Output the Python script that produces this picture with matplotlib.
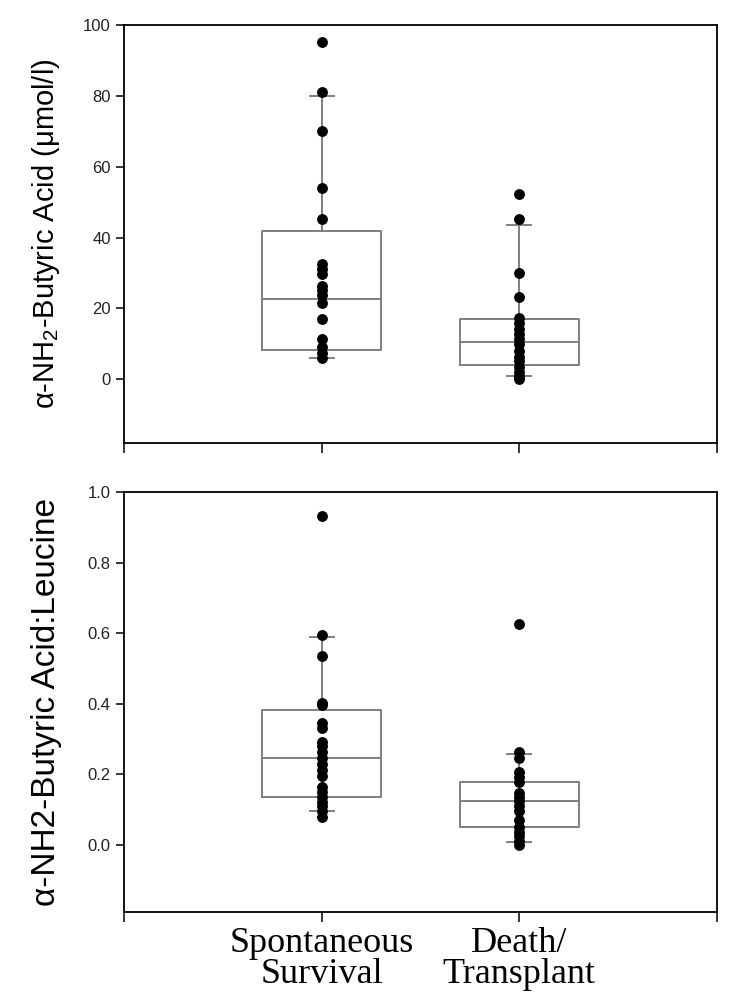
import numpy as np
import matplotlib
matplotlib.use("Agg")
import matplotlib.pyplot as plt
from matplotlib.ticker import FormatStrFormatter

plt.rcParams["font.family"] = ["Liberation Sans", "DejaVu Sans"]
plt.rcParams["mathtext.fontset"] = "custom"
plt.rcParams["mathtext.rm"] = "Liberation Sans"
plt.rcParams["mathtext.it"] = "Liberation Sans:italic"

# -*- data
groups = ["Spontaneous\nSurvival", "Death/\nTransplant"]

# alpha-NH2-butyric acid (umol/l)
abu_surv = [95.2, 81.0, 70.0, 54.0, 45.2, 32.6, 31.2, 29.6, 26.4, 25.2,
            23.8, 21.5, 17.1, 11.4, 9.0, 7.3, 6.0]
abu_dead = [52.2, 45.2, 30.0, 23.2, 17.2, 15.8, 14.2, 12.8, 11.3, 9.8,
            8.0, 6.4, 5.0, 3.5, 2.0, 1.0, 0.0]
# box stats: (whisker low, q1, median, q3, whisker high)
abu_box_surv = [6.0, 8.2, 22.5, 41.8, 80.0]
abu_box_dead = [1.0, 3.9, 10.4, 16.9, 43.5]

# alpha-NH2-butyric acid : leucine ratio
ratio_surv = [0.932, 0.595, 0.535, 0.402, 0.396, 0.345, 0.330, 0.293, 0.279,
              0.262, 0.246, 0.229, 0.212, 0.195, 0.163, 0.150, 0.137, 0.123,
              0.110, 0.095, 0.080]
ratio_dead = [0.625, 0.264, 0.246, 0.208, 0.193, 0.178, 0.148, 0.136, 0.124,
              0.109, 0.097, 0.071, 0.052, 0.038, 0.024, 0.010, 0.0]
ratio_box_surv = [0.097, 0.137, 0.246, 0.381, 0.588]
ratio_box_dead = [0.009, 0.050, 0.125, 0.179, 0.258]


def box_stats(b):
    return dict(whislo=b[0], q1=b[1], med=b[2], q3=b[3], whishi=b[4])


def draw_panel(ax, boxes, points, ylim, yticks, ylabel, lsize):
    gray = "#7f7f7f"
    ax.bxp([box_stats(b) for b in boxes], positions=[1, 2], widths=0.6,
           capwidths=0.12, showfliers=False,
           boxprops=dict(color=gray, lw=1.4),
           medianprops=dict(color=gray, lw=1.4),
           whiskerprops=dict(color=gray, lw=1.4),
           capprops=dict(color=gray, lw=1.4))
    for i, p in enumerate(points):
        ax.plot(np.full(len(p), i + 1), p, "o", color="black", ms=6.8,
                zorder=3)
    ax.set_xlim(0, 3)
    ax.set_ylim(*ylim)
    ax.set_yticks(yticks)
    ax.set_xticks([0, 1, 2, 3])
    ax.tick_params(direction="out", length=6, width=1.1, colors="black",
                   labelcolor="#222222", labelsize=12)
    ax.tick_params(axis="x", length=7)
    for s in ax.spines.values():
        s.set_linewidth(1.3)
    ax.set_ylabel(ylabel, fontsize=lsize)
    ax.yaxis.set_label_coords(-0.105, 0.5)


fig = plt.figure(figsize=(7.5, 9.99), dpi=100)
ax1 = fig.add_axes([0.1653, 0.5566, 0.7907, 0.4184])
ax2 = fig.add_axes([0.1653, 0.0871, 0.7907, 0.4204])

draw_panel(ax1, [abu_box_surv, abu_box_dead], [abu_surv, abu_dead],
           (-18, 100), [0, 20, 40, 60, 80, 100],
           "α-NH$_2$-Butyric Acid (μmol/l)", 21)
ax1.set_xticklabels([""] * 4)

draw_panel(ax2, [ratio_box_surv, ratio_box_dead], [ratio_surv, ratio_dead],
           (-0.19, 1.0), [0.0, 0.2, 0.4, 0.6, 0.8, 1.0],
           "α-NH2-Butyric Acid:Leucine", 24)
ax2.yaxis.set_major_formatter(FormatStrFormatter("%.1f"))
ax2.set_xticklabels([""] + groups + [""], fontsize=26,
                    family=["Liberation Serif", "DejaVu Serif"],
                    color="black", linespacing=0.92)

fig.savefig("out.png", dpi=100)
